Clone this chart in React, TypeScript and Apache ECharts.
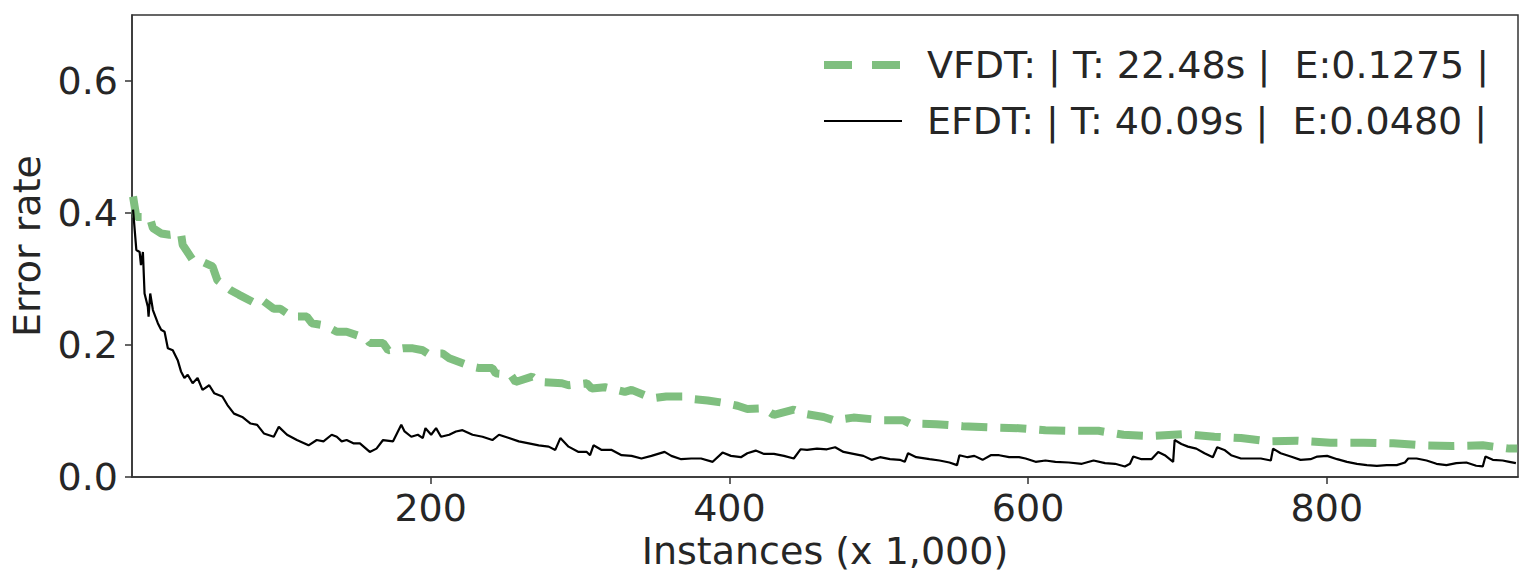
import React, { useEffect, useRef } from "react";
import * as echarts from "echarts";

const seriesNames = ["VFDT: | T: 22.48s |  E:0.1275 |", "EFDT: | T: 40.09s |  E:0.0480 |"];
const xTicks = [200, 400, 600, 800];
const yTicks = [0, 0.2, 0.4, 0.6];

const vfdtX = [0.7, 2.9, 11.8, 14.0, 19.5, 25.1, 32.8, 33.9, 40.6, 47.2, 53.9, 57.2, 66.1, 71.7, 82.7, 87.2, 94.9, 99.3, 107.1, 117.1, 120.4, 128.2, 130.4, 137.1, 143.7, 157.0, 159.2, 168.1, 171.5, 181.4, 188.1, 194.7, 198.1, 208.0, 212.4, 228.0, 232.4, 241.3, 243.5, 253.5, 256.8, 267.9, 272.3, 287.9, 292.3, 304.5, 307.8, 316.7, 330.0, 334.5, 343.3, 347.8, 357.7, 369.9, 375.4, 385.4, 394.3, 405.4, 412.0, 423.2, 429.8, 443.1, 449.8, 463.1, 469.7, 483.0, 498.5, 503.0, 516.3, 520.7, 538.5, 556.2, 576.2, 593.9, 611.6, 629.4, 647.1, 663.8, 682.6, 704.8, 724.7, 742.5, 761.3, 780.2, 802.4, 824.5, 844.5, 864.4, 884.3, 904.4, 922.2, 927.5];
const vfdtY = [0.425, 0.394, 0.394, 0.377, 0.369, 0.367, 0.369, 0.352, 0.329, 0.326, 0.319, 0.298, 0.283, 0.276, 0.263, 0.268, 0.255, 0.255, 0.243, 0.243, 0.233, 0.230, 0.228, 0.220, 0.220, 0.210, 0.203, 0.203, 0.192, 0.195, 0.195, 0.192, 0.187, 0.187, 0.180, 0.167, 0.165, 0.165, 0.157, 0.155, 0.144, 0.152, 0.144, 0.142, 0.139, 0.142, 0.134, 0.136, 0.129, 0.132, 0.124, 0.119, 0.122, 0.122, 0.118, 0.116, 0.113, 0.108, 0.103, 0.104, 0.094, 0.102, 0.096, 0.091, 0.086, 0.090, 0.087, 0.086, 0.086, 0.081, 0.080, 0.077, 0.075, 0.074, 0.071, 0.070, 0.070, 0.064, 0.062, 0.065, 0.061, 0.059, 0.054, 0.055, 0.052, 0.052, 0.051, 0.048, 0.047, 0.048, 0.043, 0.043];

const efdtX = [0.7, 2.9, 5.1, 6.0, 7.3, 8.4, 10.6, 11.1, 12.2, 14.0, 17.3, 19.5, 21.8, 24.0, 27.3, 30.6, 32.8, 35.1, 37.3, 40.6, 43.9, 47.2, 51.7, 55.0, 60.5, 63.9, 68.3, 73.8, 79.4, 83.8, 88.3, 94.9, 98.3, 103.8, 110.4, 118.2, 123.7, 128.2, 133.7, 137.1, 140.4, 143.7, 148.2, 152.6, 159.2, 163.7, 168.1, 174.8, 180.3, 182.5, 187.0, 191.4, 194.7, 196.5, 200.3, 203.6, 206.9, 212.4, 216.9, 221.3, 228.0, 234.7, 241.3, 245.7, 252.4, 259.0, 265.7, 272.3, 279.0, 283.4, 286.8, 292.3, 299.0, 304.5, 306.7, 309.0, 314.5, 321.2, 327.8, 334.5, 341.1, 347.8, 356.6, 361.1, 367.7, 374.4, 381.0, 388.8, 395.4, 401.0, 407.7, 412.0, 417.6, 423.2, 429.8, 436.5, 443.1, 447.6, 452.0, 458.6, 465.3, 470.8, 476.4, 483.0, 489.7, 495.2, 500.8, 507.5, 514.1, 517.4, 519.6, 525.1, 534.0, 540.7, 547.3, 552.4, 554.0, 559.5, 564.0, 569.5, 575.0, 580.6, 587.3, 593.9, 598.3, 605.0, 611.6, 618.3, 627.2, 636.0, 643.8, 651.5, 658.2, 664.8, 668.2, 670.4, 675.9, 682.6, 687.1, 691.5, 697.1, 698.1, 702.6, 707.0, 712.6, 718.1, 723.7, 726.6, 731.4, 735.9, 742.5, 749.2, 755.8, 762.5, 764.0, 769.1, 775.8, 782.4, 789.1, 793.6, 800.2, 806.9, 813.5, 820.2, 826.8, 833.5, 840.1, 846.8, 852.3, 854.5, 860.1, 866.8, 873.4, 880.1, 886.7, 893.4, 900.0, 904.4, 906.2, 911.1, 917.7, 922.2, 926.6];
const efdtY = [0.405, 0.344, 0.341, 0.321, 0.341, 0.278, 0.258, 0.243, 0.278, 0.253, 0.233, 0.223, 0.220, 0.195, 0.192, 0.177, 0.160, 0.150, 0.155, 0.142, 0.150, 0.132, 0.139, 0.127, 0.122, 0.109, 0.096, 0.091, 0.081, 0.079, 0.066, 0.061, 0.076, 0.064, 0.056, 0.048, 0.056, 0.054, 0.064, 0.061, 0.054, 0.056, 0.051, 0.051, 0.038, 0.043, 0.056, 0.054, 0.079, 0.069, 0.061, 0.064, 0.059, 0.074, 0.064, 0.074, 0.061, 0.064, 0.069, 0.071, 0.064, 0.061, 0.056, 0.064, 0.059, 0.054, 0.051, 0.048, 0.046, 0.041, 0.059, 0.046, 0.038, 0.038, 0.033, 0.048, 0.041, 0.041, 0.033, 0.032, 0.028, 0.032, 0.038, 0.032, 0.027, 0.028, 0.028, 0.023, 0.037, 0.032, 0.030, 0.036, 0.040, 0.035, 0.035, 0.032, 0.028, 0.042, 0.041, 0.043, 0.042, 0.045, 0.038, 0.035, 0.032, 0.026, 0.030, 0.027, 0.026, 0.023, 0.036, 0.030, 0.027, 0.025, 0.022, 0.018, 0.033, 0.030, 0.032, 0.026, 0.033, 0.033, 0.030, 0.030, 0.028, 0.023, 0.025, 0.023, 0.022, 0.020, 0.025, 0.021, 0.020, 0.016, 0.020, 0.031, 0.027, 0.027, 0.038, 0.033, 0.023, 0.056, 0.050, 0.046, 0.043, 0.036, 0.030, 0.045, 0.041, 0.033, 0.028, 0.028, 0.028, 0.025, 0.043, 0.036, 0.031, 0.026, 0.027, 0.031, 0.032, 0.027, 0.023, 0.020, 0.018, 0.017, 0.018, 0.018, 0.022, 0.028, 0.028, 0.025, 0.020, 0.018, 0.021, 0.022, 0.017, 0.016, 0.031, 0.026, 0.025, 0.023, 0.021];

const FONT = "DejaVu Sans";
const TEXT = "#262626";
const SPINE = "#333333";
const GREEN = "#7fbf7f";

export default function App() {
  const ref = useRef<HTMLDivElement>(null);
  useEffect(() => {
    if (!ref.current) return;
    const chart = echarts.init(ref.current, null, { renderer: "svg" });
    chart.setOption({
      animation: false,
      backgroundColor: "#ffffff",
      textStyle: { fontFamily: FONT },
      grid: {
        left: 124,
        right: 17,
        top: 15,
        bottom: 101,
        show: true,
        borderColor: SPINE,
        borderWidth: 1.5,
        backgroundColor: "transparent",
      },
      legend: {
        orient: "vertical",
        left: 815,
        top: 40,
        itemWidth: 78,
        itemHeight: 14,
        itemGap: 16,
        itemStyle: { opacity: 0, borderWidth: 0 },
        textStyle: { fontFamily: FONT, fontSize: 38, color: TEXT, lineHeight: 40, padding: [0, 0, 0, 20] },
        data: [
          { name: seriesNames[0], lineStyle: { width: 8, type: [28, 20], color: GREEN, cap: "butt" } },
          { name: seriesNames[1], lineStyle: { width: 2, color: "#000000" } },
        ],
      },
      xAxis: {
        type: "value",
        min: 0,
        max: 928,
        name: "Instances (x 1,000)",
        nameLocation: "middle",
        nameGap: 54,
        nameTextStyle: { fontFamily: FONT, fontSize: 38, color: TEXT },
        axisLine: { show: true, lineStyle: { color: SPINE, width: 1.5 } },
        axisTick: { show: true, length: 7, inside: false, customValues: xTicks, lineStyle: { color: SPINE, width: 1.5 } },
        axisLabel: { customValues: xTicks, fontFamily: FONT, fontSize: 38, color: TEXT, margin: 12 },
        splitLine: { show: false },
      },
      yAxis: {
        type: "value",
        min: 0,
        max: 0.7,
        name: "Error rate",
        nameLocation: "middle",
        nameGap: 86,
        nameRotate: 90,
        nameTextStyle: { fontFamily: FONT, fontSize: 38, color: TEXT },
        axisLine: { show: true, lineStyle: { color: SPINE, width: 1.5 } },
        axisTick: { show: true, length: 7, inside: false, customValues: yTicks, lineStyle: { color: SPINE, width: 1.5 } },
        axisLabel: {
          customValues: yTicks,
          fontFamily: FONT,
          fontSize: 38,
          color: TEXT,
          margin: 14,
          formatter: (v: number) => v.toFixed(1),
        },
        splitLine: { show: false },
      },
      series: [
        {
          name: seriesNames[0],
          type: "line",
          showSymbol: false,
          symbol: "none",
          data: vfdtX.map((x, i) => [x, vfdtY[i]]),
          lineStyle: { color: GREEN, width: 8, type: [26, 13], cap: "butt" },
          itemStyle: { color: GREEN },
          z: 2,
        },
        {
          name: seriesNames[1],
          type: "line",
          showSymbol: false,
          symbol: "none",
          data: efdtX.map((x, i) => [x, efdtY[i]]),
          lineStyle: { color: "#000000", width: 2.2 },
          itemStyle: { color: "#000000" },
          z: 3,
        },
      ],
    });
    return () => chart.dispose();
  }, []);
  return (
    <div
      ref={ref}
      style={{ position: "fixed", left: 0, top: 0, width: 1535, height: 578, background: "#fff" }}
    />
  );
}
